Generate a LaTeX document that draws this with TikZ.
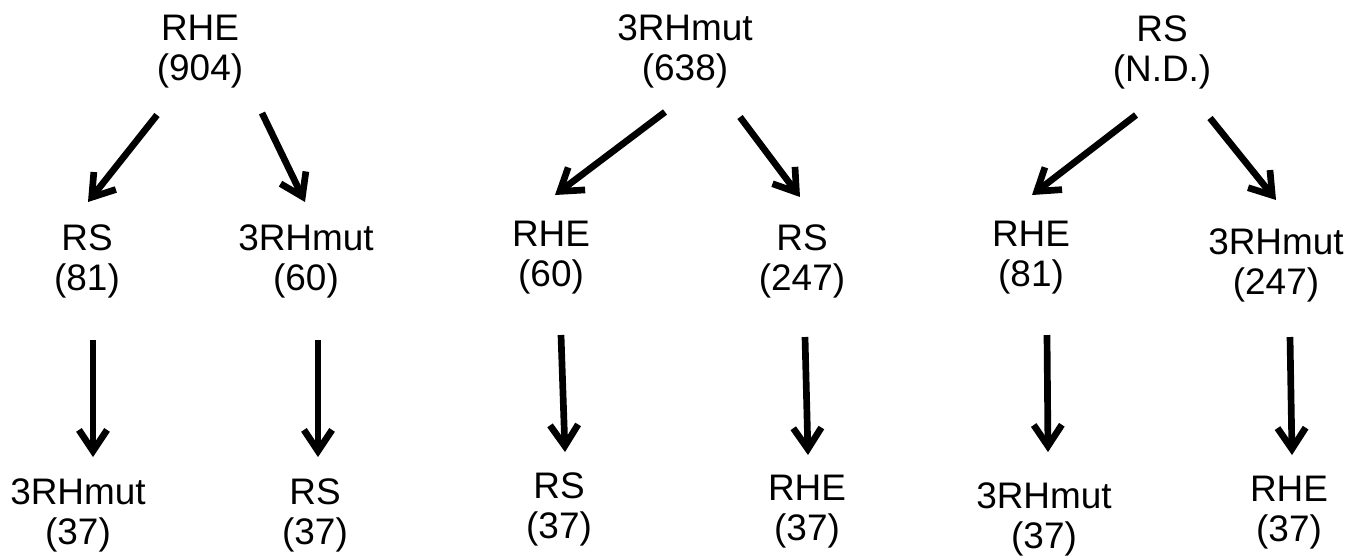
\documentclass[tikz,border=0pt]{standalone}
\usepackage{fontspec}
\setmainfont{Liberation Sans}
\usetikzlibrary{arrows.meta}

\begin{document}
\begin{tikzpicture}[x=0.01cm,y=-0.01cm,
strain/.style={align=center,inner sep=0pt,font=\fontsize{10.5}{11.4}\selectfont},
arr/.style={line width=1.9pt,-{Straight Barb[length=6pt,width=8pt]}}]
\useasboundingbox (0,0) rectangle (1364,557);

% top row
\node (trhe) [strain] at (200,52) {RHE\\(904)};
\node (tmut) [strain] at (685,51) {3RHmut\\(638)};
\node (trs)  [strain] at (1162,52) {RS\\(N.D.)};

% middle row
\node (mrs1)  [strain] at (87,261)   {RS\\(81)};
\node (mmut1) [strain] at (306,261)  {3RHmut\\(60)};
\node (mrhe1) [strain] at (551,258)  {RHE\\(60)};
\node (mrs2)  [strain] at (802,261)  {RS\\(247)};
\node (mrhe2) [strain] at (1031,258) {RHE\\(81)};
\node (mmut2) [strain] at (1276,265) {3RHmut\\(247)};

% bottom row
\node (bmut1) [strain] at (78,515)   {3RHmut\\(37)};
\node (brs1)  [strain] at (315,515)  {RS\\(37)};
\node (brs2)  [strain] at (559,509)  {RS\\(37)};
\node (brhe1) [strain] at (807,512)  {RHE\\(37)};
\node (bmut2) [strain] at (1044,519) {3RHmut\\(37)};
\node (brhe2) [strain] at (1289,513) {RHE\\(37)};

% arrow ends
\coordinate (a1s) at (157,115);  \coordinate (a1e) at (88,202);
\coordinate (a2s) at (262,113);  \coordinate (a2e) at (305,202);
\coordinate (a3s) at (665,112);  \coordinate (a3e) at (555,195);
\coordinate (a4s) at (740,117);  \coordinate (a4e) at (800,197);
\coordinate (a5s) at (1136,115); \coordinate (a5e) at (1032,195);
\coordinate (a6s) at (1210,118); \coordinate (a6e) at (1276,200);

\coordinate (v1s) at (93,340);   \coordinate (v1e) at (93,457);
\coordinate (v2s) at (318,340);  \coordinate (v2e) at (318,457);
\coordinate (v3s) at (561,335);  \coordinate (v3e) at (565,452);
\coordinate (v4s) at (805,337);  \coordinate (v4e) at (808,455);
\coordinate (v5s) at (1047,335); \coordinate (v5e) at (1048,452);
\coordinate (v6s) at (1290,337); \coordinate (v6e) at (1292,455);

\foreach \i in {1,...,6} {
  \draw[arr] (a\i s) -- (a\i e);
  \draw[arr] (v\i s) -- (v\i e);
}
\end{tikzpicture}
\end{document}
